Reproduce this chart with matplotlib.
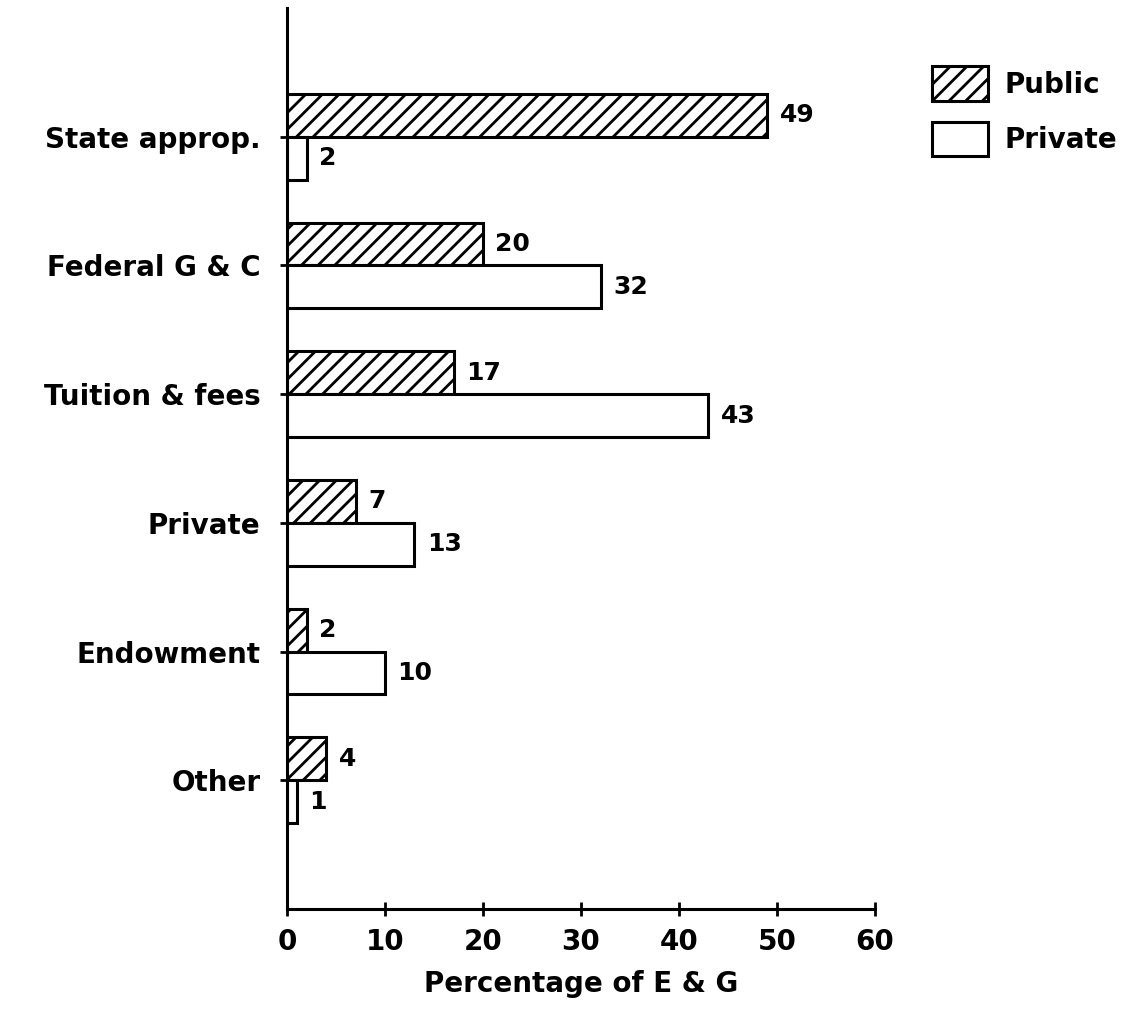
import matplotlib
matplotlib.use("Agg")
import matplotlib.pyplot as plt
import numpy as np

plt.rcParams['font.family'] = ['DejaVu Sans']
plt.rcParams['font.weight'] = 'bold'
plt.rcParams['hatch.linewidth'] = 2.0

categories = ["State approp.", "Federal G & C", "Tuition & fees", "Private", "Endowment", "Other"]
public = [49, 20, 17, 7, 2, 4]
private = [2, 32, 43, 13, 10, 1]
xticks = [0, 10, 20, 30, 40, 50, 60]

fig = plt.figure(figsize=(11.24, 10.16), dpi=100)
ax = fig.add_axes([287/1124, 1 - 909/1016, (875-287)/1124, (909-8)/1016])

ypos = -np.arange(len(categories))
bar_h = 0.333

# public bars sit above the tick, private bars below it
pub = ax.barh(ypos, public, height=bar_h, align='edge', color='white',
              edgecolor='black', linewidth=2.2, hatch='//', label='Public')
pri = ax.barh(ypos, private, height=-bar_h, align='edge', color='white',
              edgecolor='black', linewidth=2.2, label='Private')

for y, v in zip(ypos, public):
    ax.annotate(str(v), (v, y + bar_h / 2), xytext=(9, 0), textcoords='offset points',
                va='center', ha='left', fontsize=18, fontweight='bold')
for y, v in zip(ypos, private):
    ax.annotate(str(v), (v, y - bar_h / 2), xytext=(9, 0), textcoords='offset points',
                va='center', ha='left', fontsize=18, fontweight='bold')

ax.set_xlim(0, 60)
ax.set_ylim(-6.0, 1.0)
ax.set_xticks(xticks)
ax.set_yticks(ypos, categories)

for side in ['top', 'right']:
    ax.spines[side].set_visible(False)
for side in ['left', 'bottom']:
    ax.spines[side].set_linewidth(2.2)

ax.tick_params(axis='both', direction='inout', length=10, width=2)
ax.tick_params(axis='y', pad=14, labelsize=20)
ax.tick_params(axis='x', pad=9, labelsize=20)
for lab in ax.get_xticklabels() + ax.get_yticklabels():
    lab.set_fontweight('bold')

ax.set_xlabel('Percentage of E & G', fontsize=20, fontweight='bold', labelpad=10)

leg = ax.legend(handles=[pub, pri], loc='upper left', frameon=False,
                bbox_to_anchor=(932/1124, 1 - 66/1016), bbox_transform=fig.transFigure,
                borderaxespad=0, borderpad=0, fontsize=20,
                handlelength=2.0, handleheight=1.55, labelspacing=0.75, handletextpad=0.6)
for t in leg.get_texts():
    t.set_fontweight('bold')

fig.savefig('out.png', dpi=100)
